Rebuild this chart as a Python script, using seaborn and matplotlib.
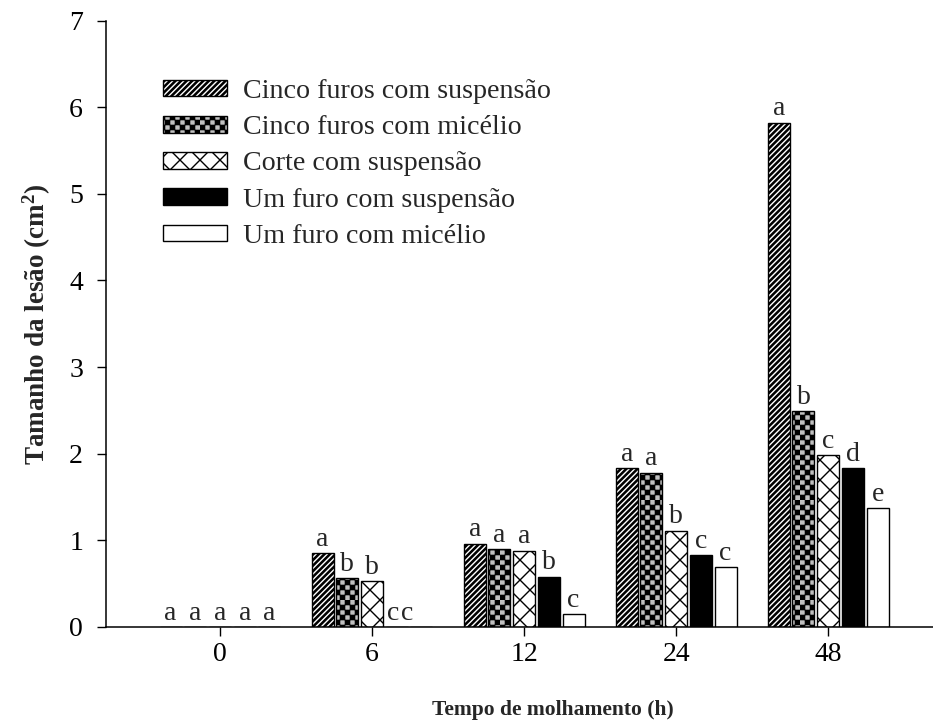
import warnings
import numpy as np
import pandas as pd
import matplotlib
matplotlib.use("Agg")
import matplotlib.pyplot as plt
import matplotlib.hatch as mhatch
from matplotlib.path import Path
import seaborn as sns

warnings.filterwarnings("ignore", category=matplotlib.MatplotlibDeprecationWarning)

# ---------------------------------------------------------------- data
hours = ["0", "6", "12", "24", "48"]
treatments = [
    "Cinco furos com suspensão",
    "Cinco furos com micélio",
    "Corte com suspensão",
    "Um furo com suspensão",
    "Um furo com micélio",
]
cinco_suspensao = [0.0, 0.85, 0.96, 1.83, 5.82]
cinco_micelio = [0.0, 0.56, 0.90, 1.78, 2.49]
corte_suspensao = [0.0, 0.53, 0.88, 1.11, 1.98]
um_furo_suspensao = [0.0, 0.0, 0.58, 0.83, 1.83]
um_furo_micelio = [0.0, 0.0, 0.15, 0.69, 1.37]

letras_cinco_suspensao = ["a", "a", "a", "a", "a"]
letras_cinco_micelio = ["a", "b", "a", "a", "b"]
letras_corte_suspensao = ["a", "b", "a", "b", "c"]
letras_um_furo_suspensao = ["a", "c", "b", "c", "d"]
letras_um_furo_micelio = ["a", "c", "c", "c", "e"]

y_ticks = [0, 1, 2, 3, 4, 5, 6, 7]

series = [cinco_suspensao, cinco_micelio, corte_suspensao,
          um_furo_suspensao, um_furo_micelio]
letters = [letras_cinco_suspensao, letras_cinco_micelio,
           letras_corte_suspensao, letras_um_furo_suspensao,
           letras_um_furo_micelio]

df = pd.DataFrame(
    [(h, t, v) for t, vals in zip(treatments, series) for h, v in zip(hours, vals)],
    columns=["hora", "tratamento", "tamanho"],
)


# ---------------------------------------------------------- fill patterns
class CheckerHatch(mhatch.HatchPatternBase):
    """Filled checkerboard squares ('k')."""
    n = 20

    def __init__(self, hatch, density):
        self.num_squares = (self.n * self.n // 2) if "k" in hatch else 0
        self.num_vertices = self.num_squares * 5

    def set_vertices_and_codes(self, vertices, codes):
        s = 1.0 / self.n
        m = 0.004
        polys = []
        for i in range(self.n):
            for j in range(self.n):
                if (i + j) % 2 == 0:
                    x0, y0 = i * s + m, j * s + m
                    x1, y1 = (i + 1) * s - m, (j + 1) * s - m
                    polys.append([(x0, y0), (x1, y0), (x1, y1), (x0, y1), (x0, y0)])
        vertices[:] = np.asarray(polys, float).reshape(-1, 2)
        codes[:] = np.tile([Path.MOVETO, Path.LINETO, Path.LINETO,
                            Path.LINETO, Path.CLOSEPOLY], self.num_squares)


class WideCrossHatch(mhatch.HatchPatternBase):
    """Sparse diagonal cross-hatching ('w')."""
    step = 0.2

    def __init__(self, hatch, density):
        self.offsets = np.arange(-1.0, 1.0 + 1e-9, self.step) if "w" in hatch else np.array([])
        self.num_vertices = len(self.offsets) * 4

    def set_vertices_and_codes(self, vertices, codes):
        k = len(self.offsets)
        c = self.offsets
        ne = vertices[:2 * k]
        ne[0::2, 0] = c
        ne[0::2, 1] = 0.0
        ne[1::2, 0] = c + 1.0
        ne[1::2, 1] = 1.0
        se = vertices[2 * k:]
        d = c + 1.0
        se[0::2, 0] = d
        se[0::2, 1] = 0.0
        se[1::2, 0] = d - 1.0
        se[1::2, 1] = 1.0
        codes[0::2] = Path.MOVETO
        codes[1::2] = Path.LINETO


class BandHatch(mhatch.HatchPatternBase):
    """Dense thick diagonal stripes ('v')."""
    period = 1.0 / 18
    width = 0.016

    def __init__(self, hatch, density):
        self.num_bands = 37 if "v" in hatch else 0
        self.num_vertices = self.num_bands * 5

    def set_vertices_and_codes(self, vertices, codes):
        polys = []
        for k in range(-18, 19):
            c = k * self.period
            w = self.width
            polys.append([(c, 0), (c + w, 0), (c + w + 1, 1), (c + 1, 1), (c, 0)])
        vertices[:] = np.asarray(polys, float).reshape(-1, 2)
        codes[:] = np.tile([Path.MOVETO, Path.LINETO, Path.LINETO,
                            Path.LINETO, Path.CLOSEPOLY], self.num_bands)


mhatch._hatch_types.extend([CheckerHatch, WideCrossHatch, BandHatch])

facecolors = ["white", "#c0c0c0", "white", "black", "white"]
hatches = ["v", "k", "w", None, None]

# ---------------------------------------------------------------- style
sns.set_theme(style="ticks")
plt.rcParams["font.family"] = ["Liberation Serif", "DejaVu Serif"]
plt.rcParams["mathtext.fontset"] = "custom"
plt.rcParams["mathtext.rm"] = "Liberation Serif"
plt.rcParams["mathtext.bf"] = "Liberation Serif:bold"
plt.rcParams["mathtext.it"] = "Liberation Serif:italic"
plt.rcParams["hatch.linewidth"] = 1.0

W, H = 933, 721
fig = plt.figure(figsize=(W / 100, H / 100), dpi=100)
ax = fig.add_axes([106 / W, (H - 627) / H, (1000 - 106) / W, (627 - 20.5) / H])

sns.barplot(
    data=df, x="hora", y="tamanho", hue="tratamento",
    order=hours, hue_order=treatments,
    palette=dict(zip(treatments, facecolors)), saturation=1,
    width=0.8125, gap=0.11, errorbar=None,
    edgecolor="black", linewidth=1.0, legend=False, ax=ax,
)

for cont, hatch in zip(ax.containers, hatches):
    for p in cont.patches:
        p.set_hatch(hatch)
        p.set_edgecolor("black")

# significance letters above bars; the two empty bars at 6 h carry their
# letters next to the cut bar, at these offsets from the category centre
pinned_x = {(3, 1): 0.138, (4, 1): 0.23}
for si, (cont, labs) in enumerate(zip(ax.containers, letters)):
    for hi, (p, lab) in enumerate(zip(cont.patches, labs)):
        if (si, hi) in pinned_x:
            x = hi + pinned_x[(si, hi)]
        else:
            x = p.get_x() + p.get_width() / 2
        y = p.get_height()
        ax.annotate(lab, (x, y), xytext=(0, 1),
                    textcoords="offset points", ha="center", va="bottom",
                    fontsize=20)

ax.set_xlim(-0.75, 5.13)
ax.set_ylim(0, 7)
ax.set_yticks(y_ticks)
ax.set_xticks(range(len(hours)))
ax.set_xticklabels(hours)
sns.despine(ax=ax)
for sp in ("left", "bottom"):
    ax.spines[sp].set_linewidth(1.1)
    ax.spines[sp].set_color("black")
ax.tick_params(axis="both", direction="out", length=6.5, width=1.0,
               colors="black", labelsize=20)
ax.tick_params(axis="y", pad=10)
ax.tick_params(axis="x", pad=4)

ax.set_xlabel("Tempo de molhamento (h)", fontsize=15.5, fontweight="bold",
              labelpad=24)
ax.set_ylabel("Tamanho da lesão (cm$^{\\mathbf{2}}$)", fontsize=19.5,
              fontweight="bold", labelpad=12)

handles = [cont.patches[0] for cont in ax.containers]
fig.legend(handles, treatments, loc="upper left",
           bbox_to_anchor=(163 / W, 1 - 79 / H), frameon=False,
           fontsize=20.2, borderpad=0, borderaxespad=0,
           handlelength=2.27, handleheight=0.54, handletextpad=0.57,
           labelspacing=0.40)

fig.savefig("out.png", dpi=100)
